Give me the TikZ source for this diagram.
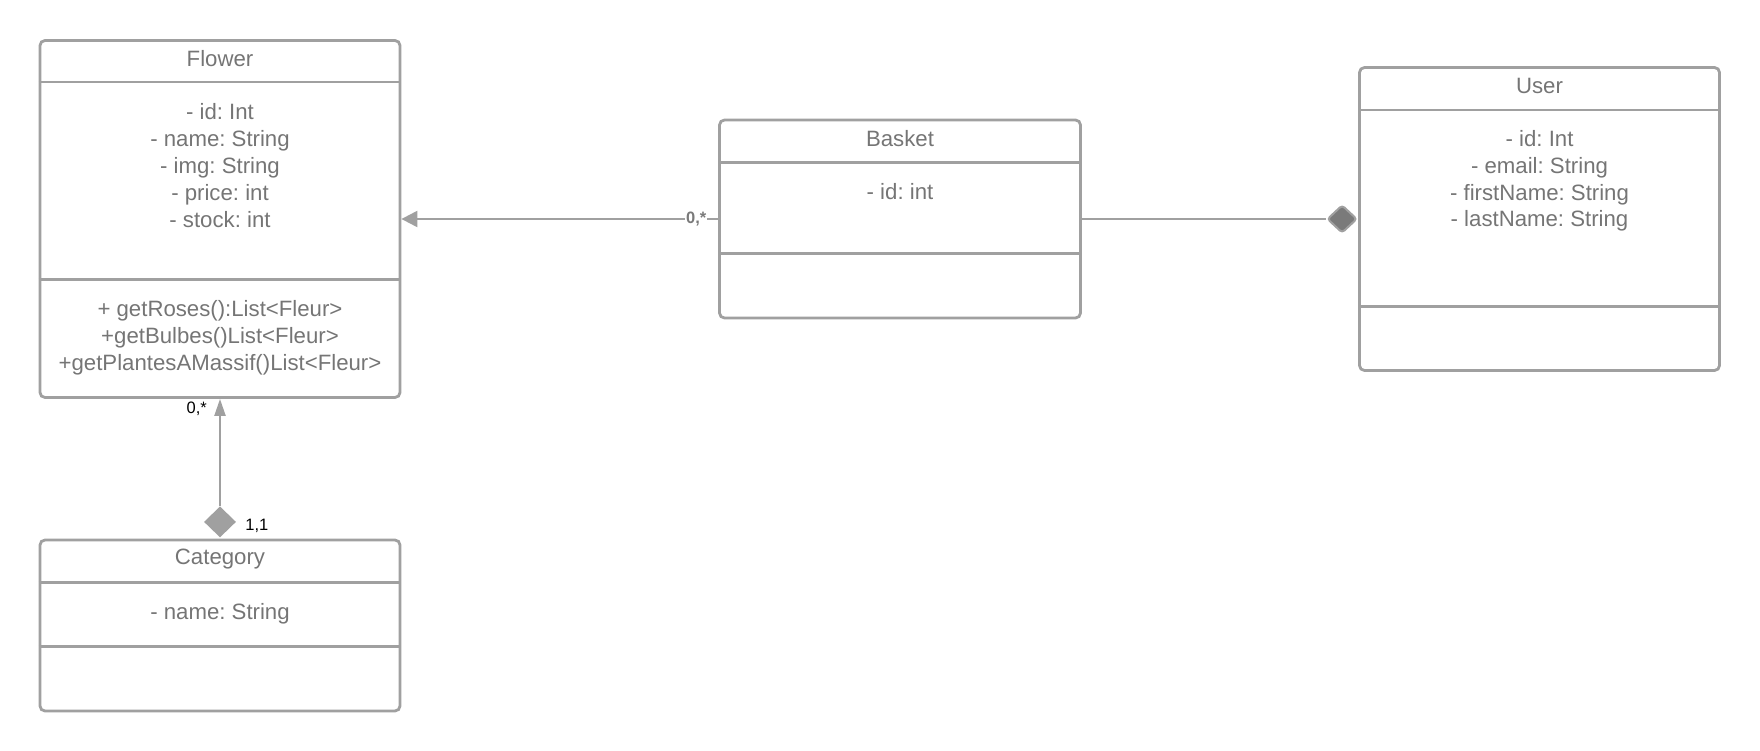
\documentclass[tikz,border=0pt]{standalone}
\usepackage{fontspec}
\setmainfont{Liberation Sans}
\usetikzlibrary{arrows.meta,shapes.geometric,positioning}
\frenchspacing

\begin{document}
\begin{tikzpicture}[x=1pt,y=-1pt]
\definecolor{line color}{RGB}{160,160,160}
\definecolor{text color}{RGB}{117,117,117}
\definecolor{diamond color}{RGB}{122,122,122}
\tikzset{
  every node/.style={font=\fontsize{22.2}{26.8}\selectfont,text=text color},
  umlclass/.style={draw=line color,line width=2.8pt,rounded corners=5pt,minimum width=360pt},
  divider/.style={draw=line color,line width=2.8pt},
  assoc/.style={draw=line color,line width=2.2pt},
  mult/.style={font=\fontsize{16.5}{18}\selectfont,text=black,inner sep=1pt},
  aggregate/.style={diamond,fill=line color,minimum width=32pt,minimum height=31pt,inner sep=0pt},
  composite/.style={diamond,fill=diamond color,draw=line color,line width=2pt,rounded corners=3pt,
    minimum width=30pt,minimum height=28pt,inner sep=0pt}
}
\useasboundingbox (0,0) rectangle (1760,751);

%FLOWER
\node[umlclass,minimum height=357pt] (FLOWER) at (220,219) {};
\draw[divider] (FLOWER.west |- 0,82) -- (FLOWER.east |- 0,82);
\draw[divider] (FLOWER.west |- 0,279.5) -- (FLOWER.east |- 0,279.5);
\node (FLOWERNAME) at (220,59) {Flower};
\node[align=center] (FLOWERATTR) at (220,165.5) {- id: Int\\- name: String\\- img: String\\- price: int\\- stock: int};
\node[align=center] (FLOWEROPS) at (220,337.5) {+ getRoses():List<Fleur>\\+getBulbes()List<Fleur>\\+getPlantesAMassif()List<Fleur>};

%BASKET
\node[umlclass,minimum width=361pt,minimum height=198pt] (BASKET) at (900,219) {};
\draw[divider] (BASKET.west |- 0,162.5) -- (BASKET.east |- 0,162.5);
\draw[divider] (BASKET.west |- 0,253.5) -- (BASKET.east |- 0,253.5);
\node (BASKETNAME) at (900,139) {Basket};
\node (BASKETATTR) at (900,192) {- id: int};

%USER
\node[umlclass,minimum height=303pt] (USER) at (1539.5,219) {};
\draw[divider] (USER.west |- 0,110) -- (USER.east |- 0,110);
\draw[divider] (USER.west |- 0,306.5) -- (USER.east |- 0,306.5);
\node (USERNAME) at (1539.5,85.5) {User};
\node[align=center] (USERATTR) at (1539.5,181) {- id: Int\\- email: String\\- firstName: String\\- lastName: String};

%CATEGORY
\node[umlclass,minimum height=171pt] (CATEGORY) at (220,625.5) {};
\draw[divider] (CATEGORY.west |- 0,582.5) -- (CATEGORY.east |- 0,582.5);
\draw[divider] (CATEGORY.west |- 0,646.5) -- (CATEGORY.east |- 0,646.5);
\node (CATEGORYNAME) at (220,559) {Category};
\node (CATEGORYATTR) at (220,614) {- name: String};

%PATHS
\node[composite] (USERDIAMOND) [left=0pt of USER.west] {};
\node[aggregate] (CATDIAMOND) [above=1pt of CATEGORY.north] {};
\draw[assoc,-{Triangle[length=16pt,width=16pt]}] (BASKET.west) -- (FLOWER.east)
  node[mult,pos=0.069,fill=white,text=diamond color,font=\fontsize{16.5}{18}\selectfont\bfseries] {0,*};
\draw[assoc] (BASKET.east) -- (USERDIAMOND.west);
\draw[assoc,-{Triangle[length=17pt,width=11pt]}] (CATDIAMOND.north) -- (FLOWER.south)
  node[mult,pos=0.91,left=11pt] {0,*};
\node[mult] (CATMULT) [right=8pt of CATDIAMOND.east,yshift=-4pt] {1,1};

\end{tikzpicture}
\end{document}
